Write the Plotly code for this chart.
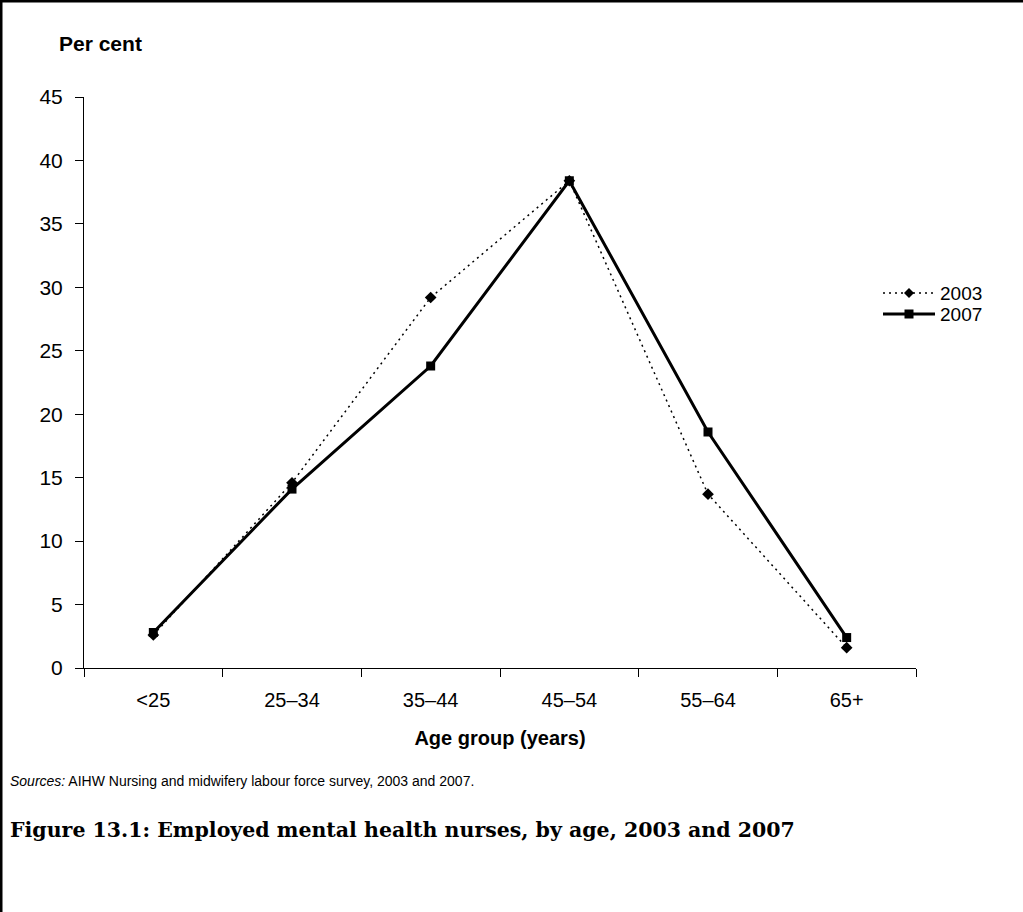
import plotly.graph_objects as go

categories = ["<25", "25–34", "35–44", "45–54", "55–64", "65+"]
values_2003 = [2.6, 14.6, 29.2, 38.4, 13.7, 1.6]
values_2007 = [2.8, 14.1, 23.8, 38.4, 18.6, 2.4]
y_ticks = [0, 5, 10, 15, 20, 25, 30, 35, 40, 45]
series_names = ["2003", "2007"]

W, H = 1023, 912
L, R, T, B = 84, 916, 97, 668

def px(x):
    return (x - L) / (R - L)

def py(y):
    return (B - y) / (B - T)

DOT = "2px,4px"

fig = go.Figure()
fig.add_trace(go.Scatter(
    x=categories, y=values_2003, name=series_names[0], mode="lines+markers",
    line=dict(color="black", width=1.5, dash=DOT),
    marker=dict(symbol="diamond", size=9, color="black"),
))
fig.add_trace(go.Scatter(
    x=categories, y=values_2007, name=series_names[1], mode="lines+markers",
    line=dict(color="black", width=3),
    marker=dict(symbol="square", size=9, color="black"),
))

font = "Liberation Sans, Arial, sans-serif"
fig.update_layout(
    width=W, height=H,
    margin=dict(l=L, r=W - R, t=T, b=H - B, pad=0),
    paper_bgcolor="white", plot_bgcolor="white",
    font=dict(family=font, size=20, color="black"),
    showlegend=False,
    xaxis=dict(type="category", range=[-0.5, len(categories) - 0.5],
               tickson="boundaries", ticks="outside",
               ticklen=8, tickcolor="black", showline=True, linecolor="black",
               linewidth=1, showgrid=False, zeroline=False,
               tickfont=dict(size=20), ticklabelstandoff=14,
               title=dict(text="<b>Age group (years)</b>", font=dict(size=20), standoff=20)),
    yaxis=dict(range=[0, 45], tickvals=y_ticks, ticks="outside", ticklen=8,
               tickcolor="black", showline=True, linecolor="black", linewidth=1,
               showgrid=False, zeroline=False, tickfont=dict(size=21),
               ticklabelstandoff=8),
)

# legend (drawn manually to match the compact original)
leg_y = [293, 314]
lx0, lx1, mx = 883, 935, 909
fig.add_shape(type="line", xref="paper", yref="paper", x0=px(lx0), x1=px(lx1),
              y0=py(leg_y[0]), y1=py(leg_y[0]), line=dict(color="black", width=1.5, dash=DOT))
fig.add_shape(type="path", xref="paper", yref="paper",
              path=f"M {px(mx-5)} {py(leg_y[0])} L {px(mx)} {py(leg_y[0]-5)} L {px(mx+5)} {py(leg_y[0])} L {px(mx)} {py(leg_y[0]+5)} Z",
              fillcolor="black", line=dict(color="black", width=0))
fig.add_shape(type="line", xref="paper", yref="paper", x0=px(lx0), x1=px(lx1),
              y0=py(leg_y[1]), y1=py(leg_y[1]), line=dict(color="black", width=3))
fig.add_shape(type="rect", xref="paper", yref="paper", x0=px(mx-4.5), x1=px(mx+4.5),
              y0=py(leg_y[1]-4.5), y1=py(leg_y[1]+4.5), fillcolor="black", line=dict(width=0))
for name, yy in zip(series_names, leg_y):
    fig.add_annotation(text=name, xref="paper", yref="paper", x=px(938), y=py(yy),
                       xanchor="left", yanchor="middle", showarrow=False,
                       font=dict(size=19))

fig.add_annotation(text="<b>Per cent</b>", xref="paper", yref="paper",
                   x=px(100), y=py(43), xanchor="center", yanchor="middle",
                   showarrow=False, font=dict(size=21))
fig.add_annotation(text="<i>Sources:</i> AIHW Nursing and midwifery labour force survey, 2003 and 2007.",
                   xref="paper", yref="paper", x=px(8), y=py(781),
                   xanchor="left", yanchor="middle", showarrow=False,
                   font=dict(size=14))
fig.add_annotation(text="<b>Figure 13.1: Employed mental health nurses, by age, 2003 and 2007</b>",
                   xref="paper", yref="paper", x=px(8), y=py(830),
                   xanchor="left", yanchor="middle", showarrow=False,
                   font=dict(size=20.5, family="DejaVu Serif, serif"))

# page border (left and top)
fig.add_shape(type="line", xref="paper", yref="paper", x0=px(1), x1=px(1), y0=py(0), y1=py(H),
              line=dict(color="black", width=3))
fig.add_shape(type="line", xref="paper", yref="paper", x0=px(0), x1=px(W), y0=py(1), y1=py(1),
              line=dict(color="black", width=3))

fig.write_html("out.html", config={"displayModeBar": False},
               post_script="document.body.style.margin='0';document.body.style.overflow='hidden';")
